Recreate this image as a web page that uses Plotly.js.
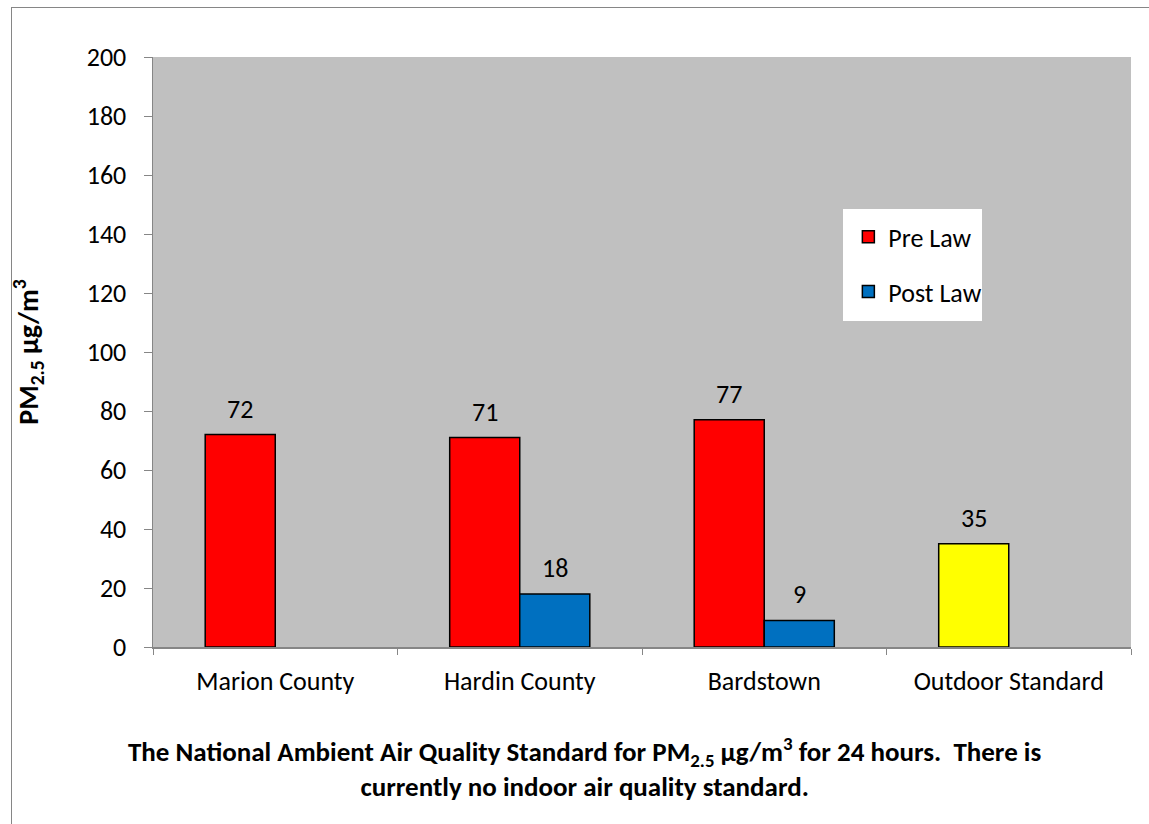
<!DOCTYPE html>
<html>
<head>
<meta charset="utf-8">
<script src="https://cdn.plot.ly/plotly-3.0.1.min.js"></script>
<style>
  html, body { margin: 0; padding: 0; background: #ffffff; }
  #chart { position: absolute; left: 0; top: 0; width: 1149px; height: 824px; }
  #frame { position: absolute; left: 11px; top: 7px; width: 1200px; height: 900px;
           border-left: 1px solid #868686; border-top: 1px solid #868686; pointer-events: none; }
</style>
</head>
<body>
<div id="chart"></div>
<div id="frame"></div>
<script>
// ---- data ----
const categories = ["Marion County", "Hardin County", "Bardstown", "Outdoor Standard"];
const preLaw = [72, 71, 77, 35];
const postLaw = [null, 18, 9, null];
const preColors = ["#FF0000", "#FF0000", "#FF0000", "#FFFF00"];
const yTicks = [0, 20, 40, 60, 80, 100, 120, 140, 160, 180, 200];

const FONT = "Carlito, Lato, 'Liberation Sans', sans-serif";

const traces = [
  {
    type: "bar", name: "Pre Law", x: categories, y: preLaw,
    marker: { color: preColors, line: { color: "#000000", width: 1.5 } },
    legendgroup: "a", hoverinfo: "skip"
  },
  {
    type: "bar", name: "Post Law", x: categories, y: postLaw,
    marker: { color: "#0070C0", line: { color: "#000000", width: 1.5 } },
    legendgroup: "b", hoverinfo: "skip"
  }
];

const annotations = [];
categories.forEach((c, i) => {
  if (preLaw[i] != null) annotations.push({
    x: c, y: preLaw[i], xref: "x", yref: "y", text: String(preLaw[i]),
    showarrow: false, xshift: -35, yshift: 26, font: { size: 26, color: "#000" }
  });
  if (postLaw[i] != null) annotations.push({
    x: c, y: postLaw[i], xref: "x", yref: "y", text: String(postLaw[i]),
    showarrow: false, xshift: 35, yshift: 26, font: { size: 26, color: "#000" }
  });
});
annotations.push({
  xref: "paper", yref: "paper", x: 0.4407, y: -0.205, xanchor: "center", yanchor: "middle",
  showarrow: false, align: "center",
  text: "<b>The National Ambient Air Quality Standard for PM<sub>2.5</sub> µg/m<sup>3</sup> for 24 hours.  There is<br>currently no indoor air quality standard.</b>",
  font: { size: 27, color: "#000" }
});

const layout = {
  width: 1149, height: 824,
  margin: { l: 153, r: 18, t: 57, b: 177, pad: 0 },
  paper_bgcolor: "#ffffff",
  plot_bgcolor: "#C0C0C0",
  font: { family: FONT, size: 26, color: "#000000" },
  barmode: "group", bargap: 0.427, bargroupgap: 0,
  showlegend: true,
  legend: {
    x: 0.711, y: 0.735, xanchor: "left", yanchor: "top",
    bgcolor: "rgba(0,0,0,0)", borderwidth: 0,
    font: { size: 26, color: "#000" },
    traceorder: "grouped", tracegroupgap: 18
  },
  xaxis: {
    type: "category", tickson: "boundaries", ticks: "outside", ticklen: 6, tickcolor: "#868686",
    showline: true, linecolor: "#868686", linewidth: 1.5, showgrid: false, zeroline: false,
    tickfont: { size: 26 }, ticklabelstandoff: 10, fixedrange: true
  },
  yaxis: {
    range: [0, 200], tickvals: yTicks, ticktext: yTicks.map(String),
    ticks: "outside", ticklen: 8, tickcolor: "#868686",
    showline: true, linecolor: "#868686", linewidth: 1.5, showgrid: false, zeroline: false,
    tickfont: { size: 26 }, ticklabelstandoff: 12,
    title: { text: "<b>PM<sub>2.5</sub> µg/m<sup>3</sup></b>", font: { size: 28 }, standoff: 40 },
    automargin: false, fixedrange: true
  },
  shapes: [{
    type: "rect", xref: "paper", yref: "paper",
    x0: (843 - 153) / 978, x1: (982 - 153) / 978,
    y0: (647 - 321) / 590, y1: (647 - 209) / 590,
    fillcolor: "#ffffff", line: { width: 0 }, layer: "above"
  }],
  annotations: annotations
};

Plotly.newPlot("chart", traces, layout, { displayModeBar: false, staticPlot: true });
</script>
</body>
</html>
